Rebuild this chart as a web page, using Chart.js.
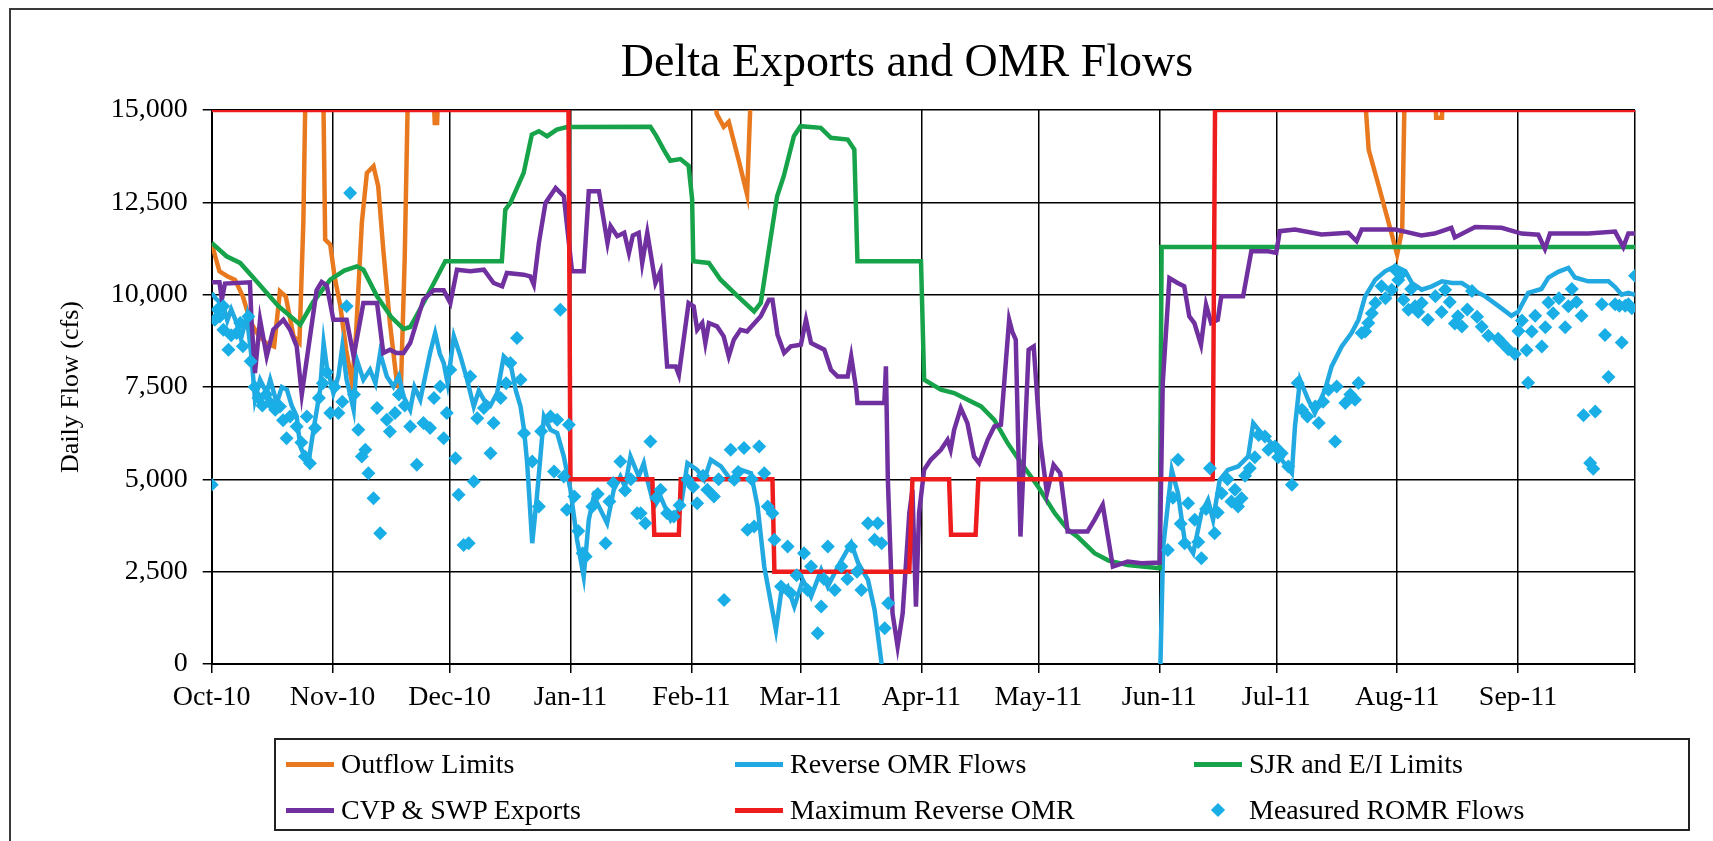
<!DOCTYPE html>
<html>
<head>
<meta charset="utf-8">
<title>Delta Exports and OMR Flows</title>
<script src="https://cdn.jsdelivr.net/npm/chart.js@4.4.0/dist/chart.umd.min.js"></script>
<style>
  html, body { margin: 0; padding: 0; background: #fff; }
  #wrap { position: relative; width: 1713px; height: 841px; overflow: hidden; }
  #frame { position: absolute; left: 9px; top: 8px; width: 1760px; height: 900px;
    border-left: 2px solid #3a3a3a; border-top: 2px solid #3a3a3a; }
  #chart { position: absolute; left: 0; top: 0; }
  #legend { position: absolute; left: 274px; top: 738px; width: 1416px; height: 93px;
    border: 2px solid #222; box-sizing: border-box;
    font-family: 'Liberation Serif', 'Times New Roman', serif; font-size: 28px; color: #000; }
  .item { position: absolute; display: flex; align-items: center; height: 40px; white-space: nowrap; }
  .swatch { width: 48px; height: 5px; margin-right: 7px; display: flex; align-items: center; justify-content: center; }
  .diamond { width: 10px; height: 10px; transform: rotate(45deg); }
</style>
</head>
<body>
<div id="wrap">
  <div id="frame"></div>
  <canvas id="chart" width="1713" height="841"></canvas>
  <div id="legend"></div>
</div>
<script>
// day 0 = 1 Oct 2010
const monthDays = [0, 31, 61, 92, 123, 151, 182, 212, 243, 273, 304, 335, 365]
const monthLabels = ['Oct-10', 'Nov-10', 'Dec-10', 'Jan-11', 'Feb-11', 'Mar-11', 'Apr-11',
  'May-11', 'Jun-11', 'Jul-11', 'Aug-11', 'Sep-11', '']
const yTicks = [0, 2500, 5000, 7500, 10000, 12500, 15000]

// [day, cfs]; values above 15,000 run off the top of the plot
const outflowLimits = [
  [0, 11400], [1, 11000], [2, 10630], [4, 10500], [6, 10400], [8, 9950], [10, 9250], [12, 8900],
  [14, 8690], [16, 8600], [17.5, 10090], [19, 9950], [21, 8870], [22.5, 8700], [23.5, 11950],
  [24.2, 16500], [28.5, 16500], [29.1, 11490], [30.4, 11355], [31.5, 10500], [33, 9684],
  [34.5, 8500], [36, 7600], [37, 8900], [38.5, 11945], [39.8, 13297], [41.5, 13478], [42.7, 12936],
  [44, 11220], [45.7, 9232], [47.5, 7606], [48.5, 7400], [49.5, 11000], [50.5, 16500],
  [56.5, 16500], [57.2, 14650], [57.8, 14650], [58.5, 16500], [128.5, 16500], [129.5, 14900],
  [131.3, 14545], [132.6, 14680], [135, 13700], [137.3, 12710], [138.6, 16500], [295, 16500],
  [296.7, 13929], [299.3, 12936], [302.3, 11762], [304, 11084], [305.3, 11762], [306.1, 16500],
  [313.5, 16500], [314, 14790], [315.5, 14790], [316, 16500], [365, 16500]
]

const reverseOmr = [
  [0, 10045], [1, 9900], [2, 9800], [3, 9700], [4, 9300], [5, 9600], [6.4, 9232], [7.5, 8800],
  [9, 9412], [10.2, 8329], [11.1, 7154], [12.4, 7696], [14.1, 7335], [15, 7700], [16.7, 7064],
  [18, 7500], [19.3, 7425], [20.5, 7000], [21.8, 6702], [22.7, 5890], [23.5, 5700], [24.8, 5438],
  [26.1, 6341], [27.8, 7425], [28.7, 8690], [29.5, 8058], [30.4, 7697], [31.2, 7335], [32.5, 7800],
  [33.5, 8600], [34.6, 7696], [35.5, 7300], [36.4, 6883], [37.2, 8239], [38.9, 7697], [40.6, 7968],
  [42, 7600], [43.2, 8420], [44.9, 7787], [46.6, 7515], [48, 7800], [49.2, 7245], [50.9, 6883],
  [52, 7500], [53.5, 7154], [56, 8420], [57.3, 8961], [58.5, 8400], [59.5, 8149], [60.5, 7600],
  [62.1, 8871], [63.8, 8329], [65.5, 7697], [67.2, 6973], [68.5, 7400], [69.8, 7154], [71.5, 7000],
  [73.2, 7335], [74.9, 8329], [76.6, 8149], [78, 7400], [79.2, 6973], [80.1, 6341], [80.9, 5438],
  [82.2, 3271], [83.4, 4535], [85.2, 6702], [86.9, 6341], [88.6, 6251], [90.3, 5619], [92, 4715],
  [93.7, 3361], [95.4, 2367], [96.7, 3903], [98, 4535], [99.3, 4264], [101.4, 3813], [103.1, 4715],
  [104.8, 5077], [106, 4800], [107.4, 5619], [109.5, 5077], [110.8, 5438], [111.7, 4986],
  [113.5, 4264], [115.1, 4535], [117.7, 3903], [120.3, 4264], [122, 5438], [124.5, 5257],
  [126.3, 4986], [128, 5529], [130.6, 5348], [133.1, 4986], [135.7, 5257], [138.3, 5167],
  [140, 4264], [141.7, 2637], [144.7, 920], [146, 1915], [147.7, 2096], [149.4, 1554],
  [151.6, 2277], [153.7, 1825], [156.3, 2548], [158, 2096], [160.6, 2637], [164, 3270],
  [165.8, 2728], [168.3, 2277], [170, 1463], [171.8, 0], [172.5, null], [243, null],
  [243.3, 0], [244, 3162], [246.2, 5257], [247.8, 4625], [249.5, 3361], [251.7, 3000],
  [253.8, 4083], [255.5, 4445], [256.8, 3903], [258.5, 4986], [260.6, 5257], [263.2, 5348],
  [265.8, 5619], [267.1, 6522], [269.2, 6251], [271.8, 5980], [274.4, 5529], [277, 5167],
  [277.8, 6432], [279.1, 7696], [281.2, 7154], [282.9, 6793], [285.5, 7425], [287.2, 8058],
  [289.8, 8600], [292.3, 8961], [294.1, 9322], [295.8, 9955], [298.4, 10406], [300.9, 10632],
  [303.5, 10767], [306.1, 10632], [307.8, 10316], [310.3, 10136], [312.9, 10226], [315.5, 10361],
  [318.1, 10316], [320.6, 10316], [323.2, 10136], [326.6, 9955], [330.1, 9684], [333.3, 9428],
  [335, 9531], [337.6, 10049], [341, 10153], [342.8, 10464], [345.3, 10619], [347.9, 10722],
  [349.6, 10464], [353, 10360], [358.2, 10360], [359.9, 10204], [361.6, 9998], [363.3, 10049],
  [365, 9998]
]

const sjrLimits = [
  [0, 11400], [3.8, 11040], [7.3, 10860], [12, 10300], [17, 9700], [22.7, 9187], [26, 9800],
  [30.4, 10406], [34, 10650], [37.2, 10767], [38.9, 10676], [42.4, 9954], [46, 9400], [49.2, 9070],
  [50.9, 9124], [54.3, 9775], [59.9, 10903], [74.4, 10903], [75.3, 12303], [76.6, 12484],
  [80, 13297], [82.1, 14336], [83.9, 14426], [86, 14290], [88.5, 14470], [91.1, 14540],
  [112.5, 14545], [114, 14300], [115.9, 13929], [117.6, 13627], [120.2, 13672], [122.3, 13491],
  [123.2, 12588], [123.5, 10903], [127.5, 10858], [130.5, 10406], [135, 9950], [139.1, 9548],
  [140.8, 9774], [143, 11300], [145, 12665], [146.7, 13207], [149.3, 14291], [151, 14562],
  [156.2, 14517], [158.8, 14246], [163.1, 14200], [164.8, 13929], [165.6, 10903], [181.9, 10903],
  [182.7, 7696], [187, 7425], [190.4, 7335], [197.3, 6973], [200.7, 6612], [204, 6000],
  [207.6, 5438], [211.9, 4806], [216.2, 4083], [219.6, 3632], [222, 3450], [226.4, 2999],
  [230, 2800], [234.9, 2683], [243.1, 2592], [243.6, 11292], [365, 11292]
]

const cvpSwpExports = [
  [0, 10334], [2, 10334], [2.6, 9864], [3.4, 10300], [9.8, 10334], [10.2, 9322], [11.1, 7877],
  [12.4, 9322], [14.1, 8329], [15.8, 9051], [18.4, 9322], [20.1, 9051], [21.8, 8600], [23.1, 7300],
  [26.9, 10117], [28.2, 10343], [29.5, 10252], [31.2, 9322], [34.6, 9322], [36.4, 8329],
  [38.9, 9774], [42.4, 9774], [44, 8420], [45.7, 8510], [47.4, 8420], [49.2, 8420], [50.9, 8690],
  [54.3, 9864], [56.9, 10117], [59.5, 10117], [61.2, 9774], [62.9, 10677], [66.3, 10632],
  [69.8, 10677], [72.3, 10316], [74.5, 10226], [75.7, 10587], [80, 10541], [81.7, 10496],
  [82.6, 10271], [83.9, 11400], [85.6, 12484], [88.2, 12890], [90.3, 12665], [92.4, 10632],
  [95.4, 10632], [96.7, 12800], [99.3, 12800], [101.5, 11400], [102.3, 11855], [104, 11584],
  [105.8, 11675], [107, 11130], [108, 11600], [109.5, 11675], [110.4, 10858], [111.7, 11675],
  [113.8, 10316], [115.1, 10632], [116.8, 8058], [119, 8058], [119.8, 7832], [122.3, 9774],
  [123.6, 9684], [124.5, 9051], [125.8, 9232], [126.6, 8690], [127.5, 9232], [129.6, 9141],
  [131.3, 8871], [132.6, 8329], [133.9, 8781], [135.6, 9051], [137.3, 9006], [140.8, 9413],
  [142.9, 9864], [143.8, 9864], [145.1, 8916], [146.8, 8420], [148.5, 8600], [151.1, 8645],
  [152.4, 9322], [153.7, 8690], [155.4, 8600], [157.1, 8510], [158.8, 7968], [160.5, 7787],
  [163.1, 7787], [164, 8329], [165.3, 7425], [165.6, 7064], [172.5, 7064], [172.9, 8058],
  [173.4, 4986], [174.6, 1373], [175.9, 470], [177.2, 1373], [178.9, 4083], [179.7, 4715],
  [180.6, 1554], [181.4, 4083], [182.7, 5257], [184.4, 5529], [187, 5800], [188.7, 6070],
  [189.5, 5800], [190.4, 6341], [192.1, 6929], [193.8, 6522], [195.5, 5619], [196.8, 5438],
  [199, 6070], [200.7, 6432], [202.4, 6477], [204.5, 9322], [205.3, 9000], [206.2, 8781],
  [207.4, 3451], [209.5, 8510], [210.8, 8600], [212.5, 6000], [214.2, 4625], [215.9, 5393],
  [217.6, 5167], [219.5, 3587], [224.6, 3587], [226.4, 3903], [228.5, 4309], [231.1, 2637],
  [234.9, 2773], [238.4, 2728], [243.1, 2746], [243.9, 7606], [245.6, 10451], [247.7, 10316],
  [249.4, 10226], [250.7, 9413], [252, 9232], [253.7, 8645], [255, 9729], [256.3, 9232],
  [258, 9322], [258.9, 9955], [264.5, 9955], [266.6, 11175], [270.9, 11175], [273, 11130],
  [273.9, 11720], [277.8, 11765], [284.6, 11630], [291.5, 11675], [293.6, 11450], [294.9, 11765],
  [303.5, 11765], [306, 11707], [310.2, 11603], [313.6, 11655], [317.9, 11810], [318.8, 11551],
  [324, 11831], [330.8, 11810], [335.9, 11655], [340.2, 11624], [341.9, 11240], [343.2, 11655],
  [353, 11655], [359.9, 11707], [362, 11292], [363.3, 11655], [365, 11655]
]

const maxReverseOmr = [
  [0, 15000], [91.5, 15000], [92, 5000], [113, 5000], [113.5, 3500], [119.8, 3500], [120.3, 5000],
  [143.8, 5000], [144.3, 2500], [178.9, 2500], [179.7, 5000], [189.1, 5000], [189.6, 3500],
  [195.9, 3500], [196.6, 5000], [256.7, 5000], [257.3, 15000], [365, 15000]
]

const measuredRomr = [
  [0, 4851], [0.8, 9322], [1.5, 9600], [2.1, 9412], [3, 9684], [3, 9051], [4.3, 8510], [5, 8900],
  [6.4, 8961], [7.3, 9232], [8, 8600], [9.4, 9412], [10, 8200], [11, 7500], [12, 7200], [13, 7000],
  [14, 7300], [15, 7064], [16.3, 6883], [17.5, 6973], [18.3, 6600], [19.2, 6115], [20.1, 6702],
  [21.8, 6432], [23, 6000], [23.9, 5619], [24.4, 6702], [25.2, 5438], [26.5, 6387], [27.5, 7200],
  [28.5, 7600], [29.5, 7900], [30.4, 6793], [31.5, 7500], [32.5, 6793], [33.5, 7100], [34.6, 9684],
  [35.5, 12755], [36.5, 7300], [37.6, 6341], [38.5, 5619], [39.4, 5800], [40.2, 5167], [41.5, 4490],
  [42.4, 6929], [43.2, 3542], [44.9, 6612], [45.7, 6296], [47, 6793], [48, 7300], [49.5, 7000],
  [50.9, 6432], [52.6, 5393], [54.3, 6522], [56, 6387], [57, 7200], [58.6, 7515], [59.5, 6115],
  [60.3, 6793], [61.2, 7968], [62.5, 5574], [63.3, 4580], [64.6, 3225], [65.9, 3271], [66.3, 7787],
  [67.2, 4941], [68.1, 6657], [69.8, 6929], [71.5, 5709], [72.3, 6522], [74.1, 7199], [75.5, 7600],
  [76.6, 8149], [78.3, 8826], [79.2, 7697], [80.1, 6251], [82.2, 5484], [83.9, 4264], [84.5, 6300],
  [86.9, 6702], [87.8, 5212], [88.6, 6612], [89.4, 9594], [90.3, 5077], [91.1, 4174], [91.6, 6477],
  [93, 4535], [94, 3600], [95.1, 3000], [95.9, 2909], [97.6, 4264], [99, 4600], [101, 3271],
  [102, 4400], [103, 4900], [104.8, 5484], [106, 4700], [107.5, 5000], [109.1, 4083], [110, 4083],
  [111.2, 3813], [112.5, 6025], [114, 4500], [115.1, 4715], [116.8, 4083], [118.5, 3993],
  [120, 4300], [122, 4986], [123.5, 4800], [124.5, 4354], [126, 5100], [127.1, 4715], [128.8, 4535],
  [130, 5000], [131.4, 1734], [133.1, 5800], [134, 4986], [135, 5200], [136.5, 5845], [137.4, 3632],
  [138.5, 5000], [139.1, 3723], [140.4, 5890], [141.7, 5167], [142.6, 4264], [143.8, 4083],
  [144.3, 3361], [146, 2096], [147.7, 3180], [148.5, 1915], [150, 2400], [151.9, 3000],
  [152.8, 2005], [153.7, 2637], [155.4, 831], [156.3, 1554], [157, 2300], [158, 3180], [159.8, 2005],
  [161.5, 2637], [163, 2300], [164, 3180], [165.5, 2500], [166.6, 2005], [168.3, 3813], [170, 3361],
  [170.8, 3813], [171.8, 3270], [172.6, 966], [173.5, 1644],
  [245.2, 3090], [246.5, 4500], [247.8, 5529], [248.5, 3800], [249.5, 3271], [250.4, 4354],
  [252.1, 3903], [253, 3300], [253.8, 2864], [255, 4200], [256, 5302], [257.2, 3542], [258, 4100],
  [259, 4625], [260.5, 5000], [261.5, 4400], [262.4, 4715], [263.2, 4264], [264.1, 4490],
  [265, 5100], [266.2, 5302], [267.5, 5600], [268.5, 6200], [270.1, 6160], [271, 5800],
  [272.7, 5890], [273.5, 5600], [274.4, 5709], [276.1, 5348], [277, 4851], [278.5, 7606],
  [279.6, 6883], [281, 6700], [283, 6973], [283.9, 6522], [285, 7100], [286.4, 7425], [288.1, 6025],
  [288.5, 7516], [290.7, 7064], [292, 7300], [293.2, 7154], [294.1, 7606], [294.9, 8961],
  [295.8, 9000], [296.6, 9232], [297.5, 9500], [298.4, 9774], [300, 10226], [301, 9900],
  [302.6, 10136], [303.5, 10677], [304.3, 10400], [305.1, 10567], [305.6, 9864], [306.9, 9594],
  [307.6, 10153], [308.6, 9684], [309.4, 9531], [310.3, 9774], [311.9, 9324], [313.8, 9955],
  [315.4, 9531], [316.3, 10136], [317.5, 9800], [318.8, 9220], [319.6, 9413], [320.6, 9141],
  [322, 9600], [323.2, 10100], [324.5, 9400], [325.7, 9130], [327.4, 8890], [329.9, 8806],
  [330.8, 8702], [332.5, 8520], [334.2, 8392], [335.1, 9013], [336, 9300], [337.2, 8495],
  [337.6, 7615], [338.5, 9000], [339.4, 9428], [341.1, 8599], [342, 9117], [342.8, 9790],
  [344, 9500], [345.5, 9900], [347.1, 9117], [347.9, 9687], [348.8, 10153], [350, 9800],
  [351.3, 9428], [351.8, 6734], [353.5, 5439], [354.3, 5284], [354.8, 6838], [356.5, 9738],
  [357.3, 8910], [358.2, 7770], [359.9, 9738], [361, 9700], [361.6, 8702], [362.5, 9700],
  [363.3, 9738], [364.2, 9635], [365, 10515]
]

const serif = "'Liberation Serif', 'Times New Roman', serif"
const toXY = (pairs) => pairs.map(([x, y]) => ({ x, y }))

function lineSet(label, pairs, color, order) {
  return {
    label,
    data: toXY(pairs),
    borderColor: color,
    backgroundColor: color,
    borderWidth: 4.5,
    pointRadius: 0,
    tension: 0,
    spanGaps: false,
    order
  }
}

const titlePlugin = {
  id: 'chartTitle',
  afterDraw(chart) {
    const ctx = chart.ctx
    ctx.save()
    ctx.font = '46px ' + serif
    ctx.fillStyle = '#000'
    ctx.textAlign = 'center'
    ctx.textBaseline = 'alphabetic'
    ctx.fillText('Delta Exports and OMR Flows', 907, 76)
    ctx.restore()
  }
}

const chart = new Chart(document.getElementById('chart'), {
  type: 'line',
  data: {
    datasets: [
      lineSet('Outflow Limits', outflowLimits, '#e8791f', 5),
      lineSet('Reverse OMR Flows', reverseOmr, '#22a9e1', 4),
      lineSet('SJR and E/I Limits', sjrLimits, '#17a34a', 3),
      lineSet('CVP & SWP Exports', cvpSwpExports, '#7030a0', 2),
      lineSet('Maximum Reverse OMR', maxReverseOmr, '#ee1c1c', 1),
      {
        label: 'Measured ROMR Flows',
        data: toXY(measuredRomr),
        showLine: false,
        pointStyle: 'rectRot',
        pointRadius: 7,
        borderWidth: 0,
        backgroundColor: '#1aaee6',
        borderColor: '#1aaee6',
        order: 0
      }
    ]
  },
  options: {
    responsive: false,
    animation: false,
    layout: { padding: { left: 10, top: 110, right: 78, bottom: 117 } },
    plugins: {
      legend: { display: false },
      tooltip: { enabled: false }
    },
    scales: {
      x: {
        type: 'linear',
        min: 0,
        max: 365,
        afterBuildTicks: (scale) => { scale.ticks = monthDays.map(v => ({ value: v })) },
        afterFit: (scale) => { scale.height = 60 },
        ticks: {
          autoSkip: false,
          maxRotation: 0,
          padding: 8,
          color: '#000',
          font: { family: serif, size: 28 },
          callback: (v) => monthLabels[monthDays.indexOf(v)]
        },
        grid: { color: '#000', lineWidth: 1.5, tickLength: 9 },
        border: { color: '#000', width: 2 }
      },
      y: {
        min: 0,
        max: 15000,
        afterBuildTicks: (scale) => { scale.ticks = yTicks.map(v => ({ value: v })) },
        afterFit: (scale) => { scale.width = 201.7 },
        ticks: {
          padding: 15,
          color: '#000',
          font: { family: serif, size: 28 },
          callback: (v) => v.toLocaleString('en-US')
        },
        grid: { color: '#000', lineWidth: 1.5, tickLength: 9 },
        border: { color: '#000', width: 2 },
        title: {
          display: true,
          text: 'Daily Flow (cfs)',
          color: '#000',
          font: { family: serif, size: 26 },
          padding: { top: 46, bottom: 0 }
        }
      }
    }
  },
  plugins: [titlePlugin]
})

// legend in the Excel layout: 3 columns x 2 rows
const legendSlots = [
  [10, 4], [459, 4], [918, 4],
  [10, 50], [459, 50], [918, 50]
]
const legendBox = document.getElementById('legend')
chart.data.datasets.forEach((ds, i) => {
  const item = document.createElement('div')
  item.className = 'item'
  item.style.left = legendSlots[i][0] + 'px'
  item.style.top = legendSlots[i][1] + 'px'
  const sw = document.createElement('div')
  sw.className = 'swatch'
  if (ds.showLine === false) {
    const d = document.createElement('div')
    d.className = 'diamond'
    d.style.background = ds.backgroundColor
    sw.appendChild(d)
  } else {
    sw.style.background = ds.borderColor
  }
  const txt = document.createElement('span')
  txt.textContent = ds.label
  item.appendChild(sw)
  item.appendChild(txt)
  legendBox.appendChild(item)
})
</script>
</body>
</html>
